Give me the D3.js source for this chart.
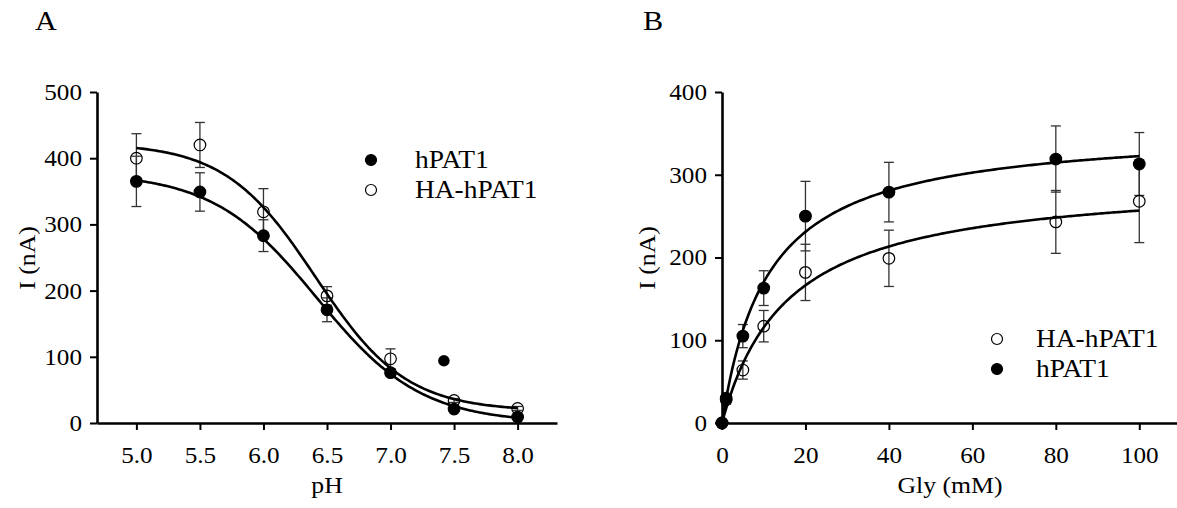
<!DOCTYPE html>
<html><head><meta charset="utf-8">
<script src="https://cdn.jsdelivr.net/npm/d3@7"></script>
<style>
body{margin:0;background:#fff;}
svg{display:block;font-family:"Liberation Serif","Times New Roman",serif;background:#fff;}
</style></head><body>
<svg id="chart" width="1177" height="508"></svg>
<script>
// ---------- Panel A data (pH dependence) ----------
const pHValues   = [5.0, 5.5, 6.0, 6.5, 7.0, 7.5, 8.0];
const pHTicks    = [5.0, 5.5, 6.0, 6.5, 7.0, 7.5, 8.0];
const hpat1A     = [365, 349, 283, 171, 76, 21, 9];
const hpat1AErr  = [38, 29, 24, 18, 5, 3, 3];
const haA        = [400, 420, 319, 192, 97, 34, 22];
const haAErr     = [37, 34, 35, 14, 15, 3, 3];
const strayPH    = [7.42];
const strayI     = [94];
// Boltzmann fit parameters: [bottom, top, pH50, slope]
const hpat1AFit  = [0, 378, 6.42, 0.41];
const haAFit     = [18, 423, 6.41, 0.356];
const yTicksA    = [0, 100, 200, 300, 400, 500];

// ---------- Panel B data (Gly dependence) ----------
const glyValues  = [0, 1, 5, 10, 20, 40, 80, 100];
const glyTicks   = [0, 20, 40, 60, 80, 100];
const hpat1B     = [0, 30, 105, 163, 250, 279, 319, 313];
const hpat1BErr  = [0, 5, 14, 21, 42, 36, 40, 38];
const haB        = [0, 28, 64, 117, 182, 199, 243, 268];
const haBErr     = [0, 5, 11, 19, 34, 34, 38, 50];
// Michaelis-Menten fit parameters: [Imax, K0.5]
const hpat1BFit  = [358, 11.0];
const haBFit     = [297, 15.7];
const yTicksB    = [0, 100, 200, 300, 400];

const legendA = ["hPAT1", "HA-hPAT1"];
const legendB = ["HA-hPAT1", "hPAT1"];

const SX = 1.12; // horizontal glyph stretch of the original figure
const svg = d3.select("#chart");

function label(x, y, str, size, anchor, rot) {
  svg.append("text")
    .attr("transform", `translate(${x},${y}) rotate(${rot||0}) scale(${SX},1)`)
    .attr("text-anchor", anchor || "start")
    .attr("font-size", size)
    .attr("fill", "#000")
    .text(str);
}

function styleAxis(g, side) {
  g.select(".domain").attr("stroke", "#000").attr("stroke-width", 2.6);
  g.selectAll(".tick line").attr("stroke", "#000").attr("stroke-width", 2);
  g.selectAll(".tick text").each(function () {
    const t = d3.select(this);
    if (side === "bottom") {
      t.attr("transform", `translate(0,40) scale(${SX},1)`).attr("x", 0).attr("y", 0).attr("dy", null);
    } else {
      t.attr("transform", `translate(-15,0) scale(${SX},1)`).attr("x", 0).attr("y", 0).attr("dy", "0.33em");
    }
  });
  g.attr("font-size", 22.5).attr("font-family", null);
  g.selectAll("text").attr("fill", "#000");
}

function drawPanel(cfg) {
  const { x, y, xTicks, xFmt, yTicks } = cfg;
  const gx = svg.append("g").attr("transform", `translate(0,${y(0)})`)
    .call(d3.axisBottom(x).tickValues(xTicks).tickFormat(xFmt).tickSize(7).tickSizeOuter(0));
  styleAxis(gx, "bottom");
  const gy = svg.append("g").attr("transform", `translate(${x.range()[0]},0)`)
    .call(d3.axisLeft(y).tickValues(yTicks).tickSize(7).tickSizeOuter(0));
  styleAxis(gy, "left");

  // error bars
  const eb = svg.append("g").attr("stroke", "#333").attr("stroke-width", 1.3).attr("fill", "none");
  cfg.series.forEach(s => {
    s.values.forEach((v, i) => {
      const e = s.err[i];
      if (!e) return;
      const cx = x(cfg.xs[i]);
      eb.append("line").attr("x1", cx).attr("x2", cx).attr("y1", y(v - e)).attr("y2", y(v + e));
      [v - e, v + e].forEach(w => eb.append("line")
        .attr("x1", cx - 5).attr("x2", cx + 5).attr("y1", y(w)).attr("y2", y(w)));
    });
  });

  // fit curves
  const line = d3.line().x(d => x(d[0])).y(d => y(d[1]));
  cfg.fits.forEach(f => {
    const pts = d3.range(0, 201).map(j => {
      const xv = f.from + (f.to - f.from) * j / 200;
      return [xv, f.fn(xv)];
    });
    svg.append("path").attr("d", line(pts)).attr("fill", "none")
      .attr("stroke", "#000").attr("stroke-width", 2.6);
  });

  // markers
  cfg.series.forEach(s => {
    svg.append("g").selectAll("circle").data(s.values).join("circle")
      .attr("cx", (d, i) => x(cfg.xs[i])).attr("cy", d => y(d)).attr("r", 5.8)
      .attr("fill", s.filled ? "#000" : "none").attr("stroke", "#000").attr("stroke-width", 1.2);
  });
}

// ---------- Panel A ----------
const xA = d3.scaleLinear().domain([4.69, 8.31]).range([97, 557]);
const yA = d3.scaleLinear().domain([0, 500]).range([423, 92]);
const boltz = p => v => p[0] + (p[1] - p[0]) / (1 + Math.exp((v - p[2]) / p[3]));
drawPanel({
  x: xA, y: yA, xTicks: pHTicks, xFmt: d3.format(".1f"), yTicks: yTicksA, xs: pHValues,
  series: [
    { values: hpat1A, err: hpat1AErr, filled: true },
    { values: haA, err: haAErr, filled: false }
  ],
  fits: [
    { fn: boltz(hpat1AFit), from: 5.0, to: 8.0 },
    { fn: boltz(haAFit), from: 5.0, to: 8.0 }
  ]
});
svg.append("g").selectAll("circle").data(strayI).join("circle")
  .attr("cx", (d, i) => xA(strayPH[i])).attr("cy", d => yA(d)).attr("r", 5.8).attr("fill", "#000");

// ---------- Panel B ----------
const xB = d3.scaleLinear().domain([0, 110]).range([722, 1181]);
const yB = d3.scaleLinear().domain([0, 400]).range([423, 92]);
const mm = p => v => p[0] * v / (p[1] + v);
drawPanel({
  x: xB, y: yB, xTicks: glyTicks, xFmt: d3.format("d"), yTicks: yTicksB, xs: glyValues,
  series: [
    { values: hpat1B, err: hpat1BErr, filled: true },
    { values: haB, err: haBErr, filled: false }
  ],
  fits: [
    { fn: mm(hpat1BFit), from: 0, to: 100 },
    { fn: mm(haBFit), from: 0, to: 100 }
  ]
});

// ---------- Labels ----------
label(35, 30, "A", 27, "start");
label(643, 30, "B", 27, "start");
label(327, 493, "pH", 23, "middle");
label(950, 493, "Gly (mM)", 23, "middle");
label(35, 258, "I (nA)", 23, "middle", -90);
label(655, 258, "I (nA)", 23, "middle", -90);

// ---------- Legends ----------
const legA = svg.append("g");
legendA.forEach((name, i) => {
  const cy = 160 + i * 30;
  legA.append("circle").attr("cx", 371).attr("cy", cy).attr("r", 5.5)
    .attr("fill", i === 0 ? "#000" : "none").attr("stroke", "#000").attr("stroke-width", 1.2);
  label(415, cy + 8, name, 24.5, "start");
});
const legB = svg.append("g");
legendB.forEach((name, i) => {
  const cy = 339 + i * 30;
  legB.append("circle").attr("cx", 997).attr("cy", cy).attr("r", 5.5)
    .attr("fill", i === 1 ? "#000" : "none").attr("stroke", "#000").attr("stroke-width", 1.2);
  label(1036, cy + 8, name, 24.5, "start");
});
</script>
</body></html>
